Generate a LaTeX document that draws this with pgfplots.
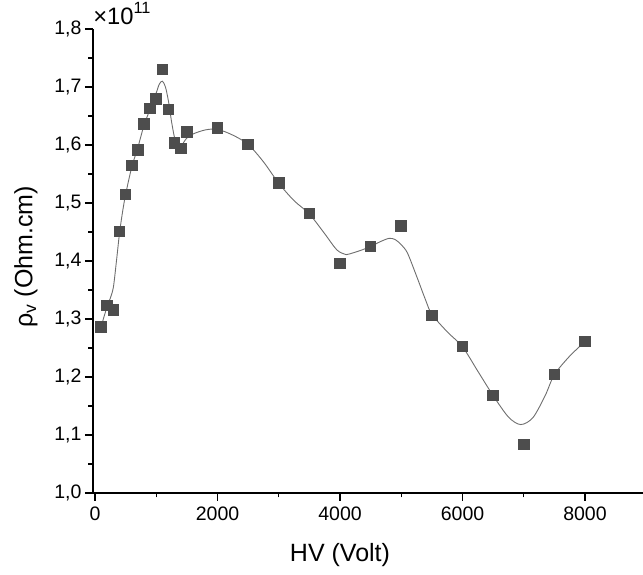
\documentclass[border=0pt]{standalone}
\usepackage{pgfplots}
\pgfplotsset{compat=1.18}
\usepackage{fontspec}
\setmainfont{Liberation Sans}
\definecolor{markgray}{HTML}{4D4D4D}
\definecolor{fitgray}{HTML}{6E6E6E}

\begin{document}
\begin{tikzpicture}
\begin{axis}[
  name=ax,
  at={(0,0)}, anchor=south west,
  scale only axis, width=550pt, height=464pt,
  xmin=-33, xmax=8947,
  ymin=1.0, ymax=1.8,
  axis x line*=bottom, axis y line*=left,
  axis line style={line width=1.3pt, black},
  xtick={0,2000,4000,6000,8000},
  ytick={1.0,1.1,1.2,1.3,1.4,1.5,1.6,1.7,1.8},
  minor x tick num=1, minor y tick num=1,
  tick align=outside,
  major tick length=8pt, minor tick length=4.5pt,
  every tick/.style={line width=1.3pt, black},
  /pgf/number format/assume math mode=true,
  every tick label/.append style={font=\fontsize{19.5}{22}\selectfont},
  xticklabel style={/pgf/number format/1000 sep={}, yshift=-2pt},
  yticklabel style={/pgf/number format/.cd, fixed, fixed zerofill, precision=1, use comma},
  xlabel={HV (Volt)},
  xlabel style={at={(axis cs:4000,1.0)}, anchor=base, yshift=-69pt, font=\fontsize{25}{28}\selectfont},
  ylabel={ρ\textsubscript{v} (Ohm.cm)},
  ylabel style={at={(axis description cs:-0.1218,0.509)}, anchor=center, font=\fontsize{25}{28}\selectfont},
  clip=false,
]
% fitted curve
\addplot[fitgray, line width=0.9pt, smooth, tension=0.5] coordinates {
  (100,1.287) (150,1.305) (200,1.322) (250,1.336) (300,1.355) (350,1.400)
  (400,1.448) (450,1.485) (500,1.515) (600,1.562) (700,1.596) (800,1.634)
  (900,1.662) (1000,1.690) (1050,1.705) (1100,1.710) (1150,1.700) (1200,1.675)
  (1250,1.640) (1300,1.612) (1350,1.600) (1400,1.597) (1450,1.605) (1500,1.612)
  (1600,1.619) (1800,1.626) (2000,1.627) (2250,1.617) (2500,1.601) (2750,1.571)
  (3000,1.534) (3250,1.504) (3500,1.481) (3750,1.447) (3950,1.419) (4100,1.411)
  (4150,1.412) (4330,1.418) (4500,1.425) (4650,1.433) (4800,1.439) (4900,1.437)
  (5000,1.428) (5100,1.414) (5250,1.374) (5400,1.332) (5500,1.308) (5750,1.278)
  (6000,1.252) (6250,1.210) (6500,1.168) (6750,1.131) (6950,1.118) (7150,1.130)
  (7350,1.168) (7500,1.204) (7750,1.236) (8000,1.261)
};
% measured points
\addplot[only marks, mark=square*, mark size=5.3pt,
  mark options={fill=markgray, draw=markgray, line width=0pt}] coordinates {
  (100,1.286) (200,1.323) (300,1.316) (400,1.451) (500,1.515) (600,1.565)
  (700,1.591) (800,1.636) (900,1.663) (1000,1.679) (1100,1.730) (1200,1.661)
  (1300,1.603) (1400,1.594) (1500,1.622) (2000,1.629) (2500,1.601) (3000,1.534)
  (3500,1.482) (4000,1.396) (4500,1.425) (5000,1.460) (5500,1.306) (6000,1.2525)
  (6500,1.168) (7000,1.0835) (7500,1.204) (8000,1.261)
};
\end{axis}
\node[anchor=base west, inner sep=0pt, scale=1.25, transform shape, font=\fontsize{19}{21}\selectfont]
  at ([yshift=5pt]ax.north west) {×10\raisebox{0.45em}{\fontsize{13}{15}\selectfont 11}};
\pgfresetboundingbox
\path[use as bounding box] (-93pt,-82pt) rectangle (550pt,493pt);
\end{tikzpicture}
\end{document}
